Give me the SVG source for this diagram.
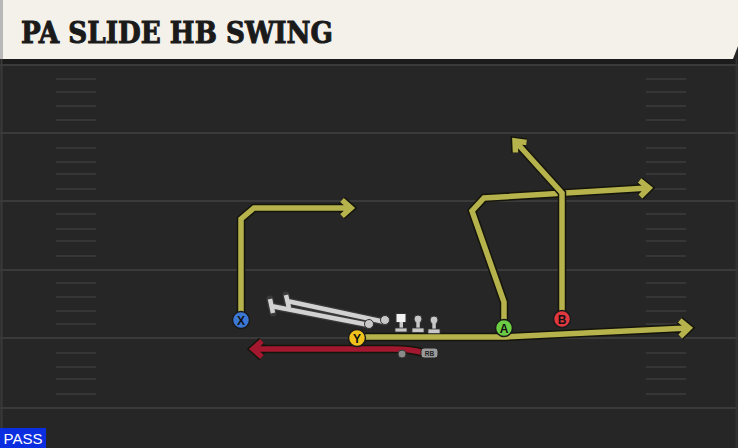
<svg xmlns="http://www.w3.org/2000/svg" width="738" height="448" viewBox="0 0 738 448">
<style>
.fl{stroke:#3a3a3a;stroke-width:2}
.hm{stroke:#363636;stroke-width:2}
.ro{fill:none;stroke:#15150c;stroke-width:8.5;stroke-linejoin:miter;stroke-linecap:butt}
.rc{fill:none;stroke:#b7b34c;stroke-width:5.5;stroke-linejoin:miter;stroke-linecap:butt}
.rr{fill:none;stroke:#a3172f;stroke-width:5.5;stroke-linejoin:miter}
.pl{stroke:#1a1a1a;stroke-width:1.5}
.lt{font-family:"Liberation Sans",Arial,sans-serif;font-weight:bold;font-size:12px;fill:#111;text-anchor:middle}
.ol{fill:none;stroke:#3a3a3a;stroke-width:7;stroke-linecap:round}
.il{fill:none;stroke:#d2d2d2;stroke-width:4.5;stroke-linecap:butt}
.lg{fill:#c8c8c8;stroke:#333;stroke-width:1}
</style>
<rect x="0" y="0" width="738" height="448" fill="#262626"/>
<rect x="0" y="58" width="738" height="7" fill="#1b1b1b"/>
<g id="field">
<line class="fl" x1="0" y1="65" x2="738" y2="65"/>
<line class="fl" x1="0" y1="133" x2="738" y2="133"/>
<line class="fl" x1="0" y1="201" x2="738" y2="201"/>
<line class="fl" x1="0" y1="270" x2="738" y2="270"/>
<line class="fl" x1="0" y1="338" x2="738" y2="338"/>
<line class="fl" x1="0" y1="408" x2="738" y2="408"/>
<line x1="1.5" y1="58" x2="1.5" y2="448" stroke="#3a3a3a" stroke-width="2"/>
<line x1="736.5" y1="58" x2="736.5" y2="448" stroke="#333" stroke-width="2"/>
<g class="hm">
<path d="M56 79H96M56 92H96M56 106H96M56 120H96M56 148H96M56 162H96M56 174H96M56 189H96M56 214H96M56 229H96M56 241H96M56 256H96M56 283H96M56 297H96M56 311H96M56 324H96M56 353H96M56 367H96M56 379H96M56 394H96"/>
<path d="M646 79H686M646 92H686M646 106H686M646 120H686M646 148H686M646 162H686M646 174H686M646 189H686M646 214H686M646 229H686M646 241H686M646 256H686M646 283H686M646 297H686M646 311H686M646 324H686M646 353H686M646 367H686M646 379H686M646 394H686"/>
</g>
</g>
<g id="header">
<path d="M0 0H738V46L733 59H0Z" fill="#f4f1ea"/>
<rect x="0" y="0" width="3" height="59" fill="#b8b8b8"/>
<text x="21" y="43" font-family="'DejaVu Serif',serif" font-weight="bold" font-size="29" fill="#1a1a1a" stroke="#1a1a1a" stroke-width="1" textLength="312" lengthAdjust="spacingAndGlyphs">PA SLIDE HB SWING</text>
</g>
<g id="connectors">
<path class="ro" d="M241 312V219L254 208H350M342 200L351 208L342 216"/>
<path class="rc" d="M241 312V219L254 208H350M342 200L351 208L342 216"/>
<path class="ro" d="M365 337H505L688 328M679.7 320.4L689 328L680.3 336.4"/>
<path class="rc" d="M365 337H505L688 328M679.7 320.4L689 328L680.3 336.4"/>
<path class="ro" d="M504 320V302L472 211L484 198L648 188M639.6 180.5L649 188L640.4 196.5"/>
<path class="rc" d="M504 320V302L472 211L484 198L648 188M639.6 180.5L649 188L640.4 196.5"/>
<path class="ro" d="M562 312V193L516 142M526.5 142.5L515 141L515.5 152.5"/>
<path class="rc" d="M562 312V193L516 142M526.5 142.5L515 141L515.5 152.5"/>
<path class="ro" d="M424 353C412 349 402 349 392 349H254M262 341L253 349L262 357"/>
<path class="rr" d="M424 353C412 349 402 349 392 349H254M262 341L253 349L262 357"/>
</g>
<g id="line">
<path class="ol" d="M271 306L369 325M270 299L273 313M287 301L385 322M286 295L289 308"/>
<path class="il" d="M271 306L369 325M270 299L273 313M287 301L385 322M286 295L289 308"/>
<circle cx="369" cy="324" r="4.5" class="lg"/>
<circle cx="385" cy="320" r="4.5" class="lg"/>
<g id="C">
<rect x="396" y="313.5" width="10" height="9" fill="#f2f2f2" stroke="#333" stroke-width="1"/>
<rect x="399.5" y="322" width="3.5" height="7" fill="#c8c8c8"/>
<rect x="395" y="328" width="12" height="4" fill="#c8c8c8" stroke="#333" stroke-width="0.8"/>
</g>
<g id="RG">
<circle cx="418" cy="319" r="4" class="lg"/>
<rect x="416.3" y="322" width="3.5" height="7" fill="#c8c8c8"/>
<rect x="412" y="328" width="12" height="4.5" fill="#c8c8c8" stroke="#333" stroke-width="0.8"/>
</g>
<g id="RT">
<circle cx="434" cy="320" r="4" class="lg"/>
<rect x="432.3" y="323" width="3.5" height="7" fill="#c8c8c8"/>
<rect x="428" y="329" width="12" height="4.5" fill="#c8c8c8" stroke="#333" stroke-width="0.8"/>
</g>
</g>
<g id="X"><circle cx="241" cy="320" r="8.5" fill="#3b78d6" class="pl"/><text x="241" y="324.5" class="lt">X</text></g>
<g id="Y"><circle cx="357" cy="338" r="8.5" fill="#f1c21c" class="pl"/><text x="357" y="342.5" class="lt">Y</text></g>
<g id="A"><circle cx="504" cy="328" r="8.5" fill="#6ccd45" class="pl"/><text x="504" y="332.5" class="lt">A</text></g>
<g id="B"><circle cx="562" cy="319" r="8.5" fill="#e0383f" class="pl"/><text x="562" y="323.5" class="lt">B</text></g>
<g id="RB">
<circle cx="402" cy="354" r="4" fill="#8a8a8a" stroke="#333" stroke-width="1"/>
<rect x="421" y="348" width="17" height="10" rx="3" fill="#9a9a9a" stroke="#222" stroke-width="1"/>
<text x="429.5" y="355.5" font-family="'Liberation Sans',Arial,sans-serif" font-weight="bold" font-size="6.5" fill="#222" text-anchor="middle">RB</text>
</g>
<g id="pass">
<rect x="0" y="428" width="46" height="20" fill="#0b2fe0"/>
<text x="23" y="444" font-family="'Liberation Sans',Arial,sans-serif" font-size="15" fill="#ffffff" text-anchor="middle">PASS</text>
</g>
</svg>
